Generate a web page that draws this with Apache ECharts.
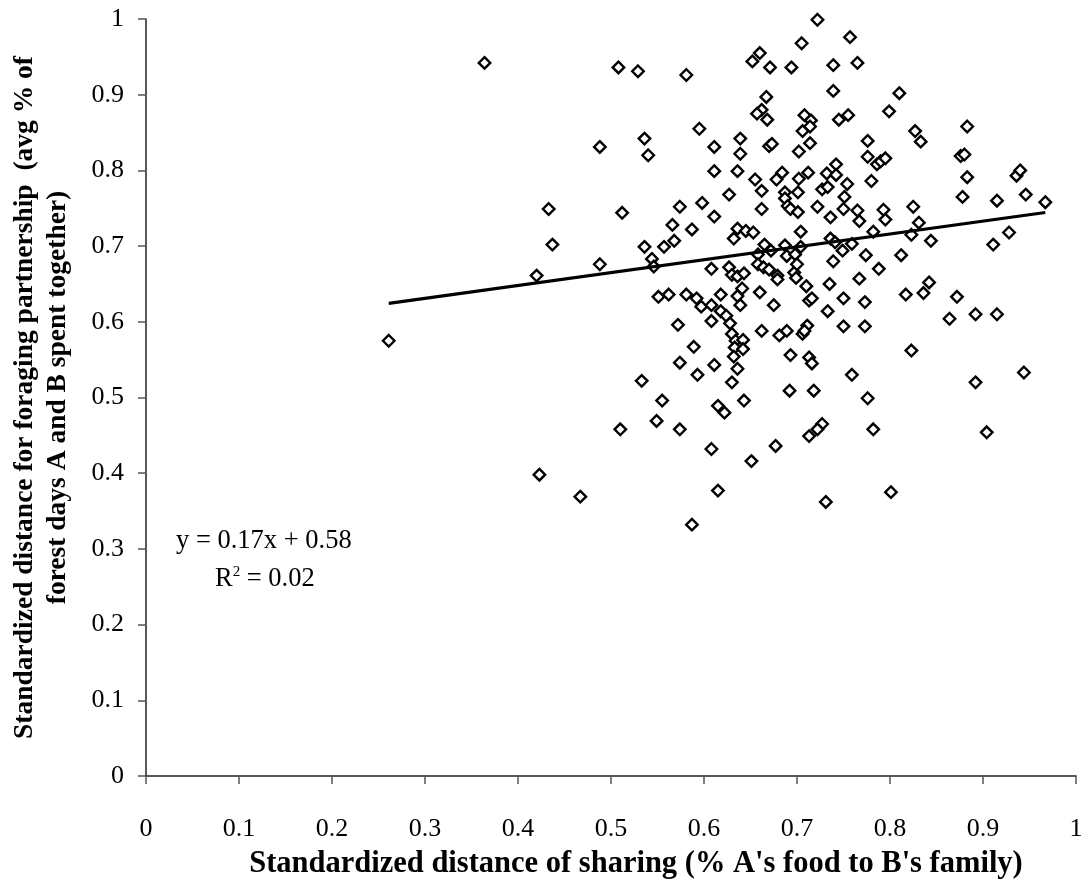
<!DOCTYPE html>
<html>

<head>
    <meta charset="utf-8">
    <title>Sharing vs foraging partnership</title>
    <script src="https://cdn.jsdelivr.net/npm/echarts@6/dist/echarts.min.js"></script>
    <style>
        html, body { margin: 0; padding: 0; background: #fff; }
    </style>
</head>

<body>
    <div id="main" style="width: 1087px;height:885px;"></div>
    <script type="text/javascript">
        // x = standardized distance of sharing, y = standardized distance for foraging partnership
        var shareX = [
            0.364, 0.488, 0.433, 0.437, 0.488, 0.420, 0.261, 0.423, 0.467,
            0.705, 0.660, 0.652, 0.508, 0.529, 0.671, 0.694, 0.581, 0.667, 0.662,
            0.657, 0.668, 0.595, 0.536, 0.540, 0.611, 0.639, 0.639, 0.670, 0.673,
            0.702, 0.611, 0.636, 0.655, 0.684, 0.678, 0.702, 0.662, 0.627, 0.687,
            0.701, 0.687, 0.690, 0.693, 0.701, 0.512, 0.574, 0.598, 0.611, 0.662,
            0.566, 0.587, 0.636, 0.645, 0.653, 0.632, 0.704, 0.568, 0.557, 0.536,
            0.665, 0.672, 0.687, 0.658, 0.689, 0.704, 0.544, 0.546, 0.608, 0.627,
            0.658, 0.664, 0.670, 0.630, 0.636, 0.643, 0.679, 0.697, 0.698, 0.700,
            0.722, 0.757, 0.739, 0.765, 0.739, 0.810, 0.799, 0.708, 0.715, 0.714,
            0.706, 0.745, 0.755, 0.883, 0.827, 0.833, 0.776, 0.714, 0.776, 0.786,
            0.790, 0.795, 0.876, 0.880, 0.883, 0.878, 0.915, 0.911, 0.742, 0.712,
            0.732, 0.742, 0.780, 0.754, 0.727, 0.733, 0.751, 0.825, 0.722, 0.750,
            0.765, 0.793, 0.736, 0.767, 0.795, 0.831, 0.782, 0.823, 0.844, 0.736,
            0.741, 0.759, 0.749, 0.774, 0.812, 0.739, 0.788,
            0.679, 0.551, 0.562, 0.581, 0.592, 0.597, 0.608, 0.618, 0.618, 0.636,
            0.641, 0.639, 0.660, 0.675, 0.608, 0.624, 0.628, 0.572, 0.630, 0.634,
            0.642, 0.633, 0.642, 0.632, 0.662, 0.681, 0.689, 0.589, 0.574, 0.611,
            0.636, 0.593, 0.630, 0.533, 0.693, 0.692, 0.555, 0.615, 0.622, 0.643,
            0.549, 0.510, 0.574, 0.608, 0.677, 0.651, 0.615, 0.587,
            0.699, 0.710, 0.735, 0.767, 0.713, 0.716, 0.750, 0.773, 0.733, 0.817,
            0.836, 0.842, 0.872, 0.864, 0.892, 0.915, 0.711, 0.706, 0.708, 0.750,
            0.773, 0.713, 0.716, 0.823, 0.759, 0.892, 0.718, 0.776, 0.727, 0.722,
            0.713, 0.782, 0.904, 0.801, 0.731,
            0.928, 0.936, 0.940, 0.946, 0.967, 0.944
        ];
        var forageY = [
            0.942, 0.831, 0.749, 0.702, 0.676, 0.661, 0.575, 0.398, 0.369,
            0.968, 0.955, 0.944, 0.936, 0.931, 0.936, 0.936, 0.926, 0.897, 0.880,
            0.875, 0.867, 0.855, 0.842, 0.820, 0.831, 0.842, 0.822, 0.832, 0.835,
            0.825, 0.799, 0.799, 0.788, 0.797, 0.788, 0.789, 0.773, 0.768, 0.771,
            0.771, 0.763, 0.753, 0.749, 0.745, 0.744, 0.752, 0.757, 0.739, 0.749,
            0.728, 0.722, 0.723, 0.720, 0.718, 0.710, 0.719, 0.707, 0.699, 0.699,
            0.702, 0.694, 0.701, 0.689, 0.687, 0.699, 0.683, 0.673, 0.670, 0.672,
            0.676, 0.672, 0.669, 0.662, 0.660, 0.664, 0.661, 0.665, 0.689, 0.676,
            0.999, 0.976, 0.939, 0.942, 0.905, 0.902, 0.878, 0.873, 0.866, 0.858,
            0.852, 0.867, 0.873, 0.858, 0.852, 0.838, 0.839, 0.836, 0.818, 0.808,
            0.812, 0.816, 0.819, 0.821, 0.791, 0.765, 0.760, 0.702, 0.808, 0.797,
            0.796, 0.794, 0.786, 0.782, 0.775, 0.778, 0.765, 0.752, 0.752, 0.749,
            0.747, 0.748, 0.738, 0.733, 0.735, 0.731, 0.719, 0.715, 0.707, 0.710,
            0.705, 0.703, 0.694, 0.688, 0.688, 0.680, 0.670,
            0.656, 0.633, 0.636, 0.636, 0.631, 0.620, 0.622, 0.614, 0.636, 0.634,
            0.644, 0.622, 0.639, 0.622, 0.601, 0.608, 0.598, 0.596, 0.584, 0.575,
            0.576, 0.566, 0.564, 0.554, 0.588, 0.582, 0.588, 0.567, 0.546, 0.543,
            0.538, 0.530, 0.520, 0.522, 0.556, 0.509, 0.496, 0.489, 0.480, 0.496,
            0.469, 0.458, 0.458, 0.432, 0.436, 0.416, 0.377, 0.332,
            0.658, 0.647, 0.650, 0.657, 0.628, 0.631, 0.631, 0.626, 0.614, 0.636,
            0.638, 0.652, 0.633, 0.604, 0.610, 0.610, 0.595, 0.584, 0.588, 0.594,
            0.594, 0.553, 0.545, 0.562, 0.530, 0.520, 0.509, 0.499, 0.465, 0.458,
            0.449, 0.458, 0.454, 0.375, 0.362,
            0.718, 0.793, 0.800, 0.768, 0.758, 0.533
        ];

        // linear trend shown on the chart
        var trendSlope = 0.17;
        var trendIntercept = 0.58;
        var trendLabel = 'y = 0.17x + 0.58';
        var r2Value = '0.02';

        var axisTicks = [0, 0.1, 0.2, 0.3, 0.4, 0.5, 0.6, 0.7, 0.8, 0.9, 1];

        var points = shareX.map(function (x, i) { return [x, forageY[i]]; });
        var xMin = Math.min.apply(null, shareX);
        var xMax = Math.max.apply(null, shareX);
        var trendData = [
            [xMin, trendSlope * xMin + trendIntercept],
            [xMax, trendSlope * xMax + trendIntercept]
        ];

        var font = '"Liberation Serif", "Times New Roman", serif';

        function tickText(v) {
            for (var i = 0; i < axisTicks.length; i++) {
                if (Math.abs(axisTicks[i] - v) < 1e-6) return String(axisTicks[i]);
            }
            return '';
        }

        var myChart = echarts.init(document.getElementById('main'));
        var option = {
            backgroundColor: '#fff',
            animation: false,
            grid: {
                left: 143,
                right: 11,
                top: 19,
                bottom: 107
            },
            xAxis: {
                type: 'value',
                min: 0,
                max: 1,
                interval: 0.1,
                name: "Standardized distance of sharing (% A's food to B's family)",
                nameLocation: 'middle',
                nameGap: 73,
                nameTextStyle: {
                    fontFamily: font,
                    fontWeight: 'bold',
                    fontSize: 30.5,
                    color: '#000',
                    padding: [0, 0, 0, 50]
                },
                axisLine: { onZero: false, lineStyle: { color: '#222', width: 1.5 } },
                axisTick: { show: true, inside: false, length: 8, lineStyle: { color: '#555', width: 1.5 } },
                axisLabel: {
                    margin: 40,
                    fontFamily: font,
                    fontSize: 26,
                    color: '#000',
                    formatter: tickText
                },
                splitLine: { show: false }
            },
            yAxis: {
                type: 'value',
                min: 0,
                max: 1,
                interval: 0.1,
                name: 'Standardized distance for foraging partnership  (avg % of\nforest days A and B spent together)',
                nameLocation: 'middle',
                nameGap: 72,
                nameTextStyle: {
                    fontFamily: font,
                    fontWeight: 'bold',
                    fontSize: 27.5,
                    lineHeight: 33,
                    color: '#000'
                },
                axisLine: { show: true, onZero: false, lineStyle: { color: '#222', width: 1.5 } },
                axisTick: { show: true, inside: false, length: 8, lineStyle: { color: '#555', width: 1.5 } },
                axisLabel: {
                    margin: 22,
                    fontFamily: font,
                    fontSize: 26,
                    color: '#000',
                    formatter: tickText
                },
                splitLine: { show: false }
            },
            graphic: [
                {
                    type: 'text',
                    left: 176,
                    top: 528,
                    style: {
                        text: trendLabel,
                        font: '26.5px ' + font,
                        fill: '#000'
                    }
                },
                {
                    type: 'text',
                    left: 215,
                    top: 565,
                    style: {
                        text: '{a|R}{sup|2}{a| = ' + r2Value + '}',
                        fill: '#000',
                        rich: {
                            a: { fontFamily: font, fontSize: 26.5, verticalAlign: 'bottom' },
                            sup: { fontFamily: font, fontSize: 15, padding: [0, 0, 13, 0] }
                        }
                    }
                }
            ],
            series: [
                {
                    type: 'scatter',
                    data: points,
                    symbol: 'diamond',
                    symbolSize: 11.5,
                    itemStyle: {
                        color: '#fff',
                        borderColor: '#000',
                        borderWidth: 2.4,
                        opacity: 1
                    },
                    z: 3
                },
                {
                    type: 'line',
                    data: trendData,
                    symbol: 'none',
                    lineStyle: { color: '#000', width: 3.2 },
                    z: 4
                }
            ]
        };

        myChart.setOption(option);
    </script>
</body>

</html>
